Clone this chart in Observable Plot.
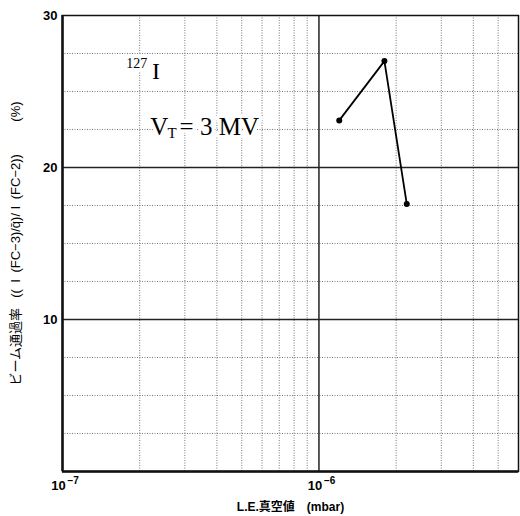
<!DOCTYPE html>
<html><head><meta charset="utf-8">
<script src="https://cdn.jsdelivr.net/npm/d3@7"></script>
<script src="https://cdn.jsdelivr.net/npm/@observablehq/plot@0.6"></script>
<style>
body{margin:0;background:#fff}
#chart svg{display:block}
</style>
</head><body><div id="chart"></div>
<script>
// data
const pressure = [1.2e-6, 1.8e-6, 2.2e-6];      // L.E. vacuum (mbar)
const transmission = [23.1, 27.0, 17.6];        // beam transmission (%)
// scales / ticks
const xDomain = [1e-7, 6e-6];
const yDomain = [0, 30];
const xTicks = [1e-7, 1e-6];
const xTickBase = ["10", "10"];
const xTickExponent = ["−7", "−6"];
const yTicks = [10, 20, 30];
const xMinorGrid = [2e-7, 3e-7, 4e-7, 5e-7, 6e-7, 7e-7, 8e-7, 9e-7, 2e-6, 3e-6, 4e-6, 5e-6];
const xMajorGrid = [1e-6];
const yMinorGrid = [2.5, 5, 7.5, 12.5, 15, 17.5, 22.5, 25, 27.5];
const yMajorGrid = [10, 20];
// texts
const xLabel = "L.E.真空値　(mbar)";
const yLabel = "ビーム通過率 \u2002((\u2002I\u2002(FC−3)/q̄)/ I\u2002(FC−2))\u3000\u3000\u2002(%)";
const isotopeMass = ["127"];
const isotopeSymbol = ["I"];
const annotX = [2.07e-7, 3.6e-7];
const annotY = [26.2, 22.5];
const voltageText = ["V", "T", "= 3 MV"];

const points = pressure.map((p, i) => ({p, t: transmission[i]}));
const tickRows = xTicks.map((v, i) => ({v, base: xTickBase[i], exp: xTickExponent[i]}));

function annotations(index, scales) {
  const g = d3.create("svg:g")
    .attr("font-family", "'Liberation Serif', 'DejaVu Serif', serif")
    .attr("font-weight", "normal")
    .attr("fill", "black")
    .attr("stroke", "white")
    .attr("stroke-width", 7)
    .attr("paint-order", "stroke")
    .attr("stroke-linejoin", "round");
  const t1 = g.append("text")
    .attr("x", scales.x(annotX[0]))
    .attr("y", scales.y(annotY[0]))
    .attr("text-anchor", "middle")
    .attr("dominant-baseline", "middle")
    .attr("font-size", 24);
  t1.append("tspan").attr("font-size", 14).attr("dy", -8).text(isotopeMass[0]);
  t1.append("tspan").attr("dy", 8).text("\u2009" + isotopeSymbol[0]);
  const t2 = g.append("text")
    .attr("x", scales.x(annotX[1]))
    .attr("y", scales.y(annotY[1]))
    .attr("text-anchor", "middle")
    .attr("dominant-baseline", "middle")
    .attr("font-size", 25);
  t2.append("tspan").text(voltageText[0]);
  t2.append("tspan").attr("font-size", 15).attr("dy", 6).attr("dx", -1).text(voltageText[1]);
  t2.append("tspan").attr("dy", -6).attr("dx", 3).text(voltageText[2]);
  return g.node();
}

const baseLabel = d => tickRows.find(t => Math.abs(Math.log10(t.v) - Math.log10(d)) < 1e-6).base;

const chart = Plot.plot({
  width: 520,
  height: 516,
  marginLeft: 62,
  marginRight: 2,
  marginTop: 15,
  marginBottom: 45,
  style: {fontFamily: "'Liberation Sans', 'Noto Sans CJK JP', sans-serif", fontSize: "12px", background: "white"},
  x: {type: "log", domain: xDomain},
  y: {domain: yDomain},
  marks: [
    Plot.ruleX(xMinorGrid, {stroke: "#555", strokeWidth: 0.8, strokeDasharray: "1,1.5"}),
    Plot.ruleY(yMinorGrid, {stroke: "#555", strokeWidth: 0.8, strokeDasharray: "1,1.5"}),
    Plot.ruleX(xMajorGrid, {stroke: "#222", strokeWidth: 1.5}),
    Plot.ruleY(yMajorGrid, {stroke: "#222", strokeWidth: 1.5}),
    Plot.frame({stroke: "#111", strokeWidth: 1.5}),
    Plot.ruleX([xDomain[0]], {stroke: "#111", strokeWidth: 2.5}),
    Plot.ruleY([yDomain[0]], {stroke: "#111", strokeWidth: 2.5}),
    annotations,
    Plot.line(points, {x: "p", y: "t", stroke: "black", strokeWidth: 1.8}),
    Plot.dot(points, {x: "p", y: "t", r: 3, fill: "black", stroke: "none"}),
    Plot.axisX({ticks: xTicks, tickFormat: baseLabel, tickSize: 0, tickPadding: 9, dx: -4, fontSize: 13, fontWeight: "bold", label: null}),
    Plot.text(tickRows, {x: "v", text: "exp", frameAnchor: "bottom", dy: 12, dx: 5, textAnchor: "start", fontSize: 10, fontWeight: "bold", clip: false}),
    Plot.axisX({ticks: [], label: xLabel, labelAnchor: "center", labelOffset: 39, labelArrow: "none", fontSize: 12, fontWeight: "bold"}),
    Plot.axisY({ticks: yTicks, tickSize: 0, tickPadding: 5, fontSize: 13, fontWeight: "bold", label: null}),
    Plot.axisY({ticks: [], label: yLabel, labelAnchor: "center", labelOffset: 52, labelArrow: "none", fontSize: 13})
  ]
});
document.getElementById("chart").append(chart);
</script>
</body></html>
